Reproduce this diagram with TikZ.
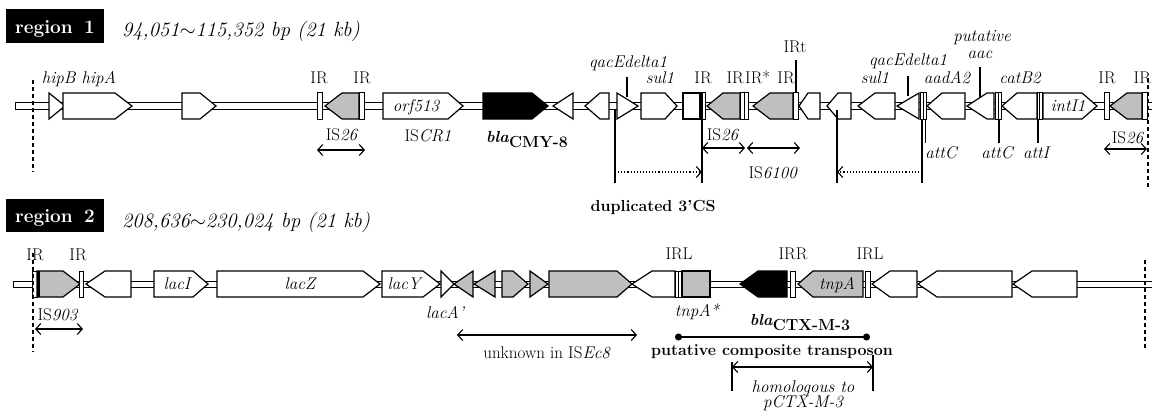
\documentclass[tikz,border=0pt]{standalone}
\usepackage{fontspec}
\usetikzlibrary{arrows.meta}
\tikzset{
  gene/.style={draw, line width=1.2pt, line join=miter},
  lbl/.style={inner sep=0pt, anchor=base, font=\fontsize{17}{19}\selectfont},
  ital/.style={lbl, font=\fontsize{17}{19}\selectfont\itshape},
  blbl/.style={lbl, font=\fontsize{16}{18}\selectfont\bfseries},
  hdr/.style={lbl, text=white, font=\fontsize{19}{21}\selectfont\bfseries},
  hdrpos/.style={inner sep=0pt, anchor=base west, font=\fontsize{20.5}{23}\selectfont\itshape},
  dimarrow/.style={line width=1.1pt, {Straight Barb[length=5pt,width=11pt]}-{Straight Barb[length=5pt,width=11pt]}},
  dotarrow/.style={line width=1.1pt, dotted, -{Straight Barb[length=5pt,width=11pt]}},
  ticker/.style={line width=1.1pt},
  cutline/.style={line width=1.1pt, dash pattern=on 4pt off 3pt},
}
% gene arrows on the current backbone (\gy = centre line)
\newcommand{\geneR}[4][white]{\filldraw[gene, fill=#1] (#2,\gy-13) -- (#3,\gy-13) -- (#4,\gy) -- (#3,\gy+13) -- (#2,\gy+13) -- cycle;}
\newcommand{\geneL}[4][white]{\filldraw[gene, fill=#1] (#2,\gy) -- (#3,\gy-13) -- (#4,\gy-13) -- (#4,\gy+13) -- (#3,\gy+13) -- cycle;}
\newcommand{\triR}[3][white]{\filldraw[gene, fill=#1] (#2,\gy-13) -- (#3,\gy) -- (#2,\gy+13) -- cycle;}
\newcommand{\triL}[3][white]{\filldraw[gene, fill=#1] (#2,\gy) -- (#3,\gy-13) -- (#3,\gy+13) -- cycle;}
\newcommand{\irbar}[2]{\filldraw[gene, fill=white, line width=1pt] (#1,\gy-13) rectangle (#2,\gy+13);}

\begin{document}
\begin{tikzpicture}[x=1pt, y=-1pt]
\useasboundingbox (0,0) rectangle (1152,412);

% headers
\fill (6,9) rectangle (104,43);
\node[hdr] (reg1) at (55,34) {region\hspace{0.6em}1};
\node[hdrpos] (span1) at (122,37) {94,051$\sim$115,352 bp (21 kb)};
\fill (6,199) rectangle (104,232);
\node[hdr] (reg2) at (55,222) {region\hspace{0.6em}2};
\node[hdrpos] (span2) at (122,227) {208,636$\sim$230,024 bp (21 kb)};

%% region 1
\def\gy{106}
\filldraw[gene, fill=white, line width=1pt] (15,103) rectangle (1160,109);
\triR{49}{65}
\geneR{63}{115}{132}
\geneR{182}{200}{216}
\irbar{317}{322}
\geneL[black!25]{325}{342}{359}
\irbar{359}{364}
\geneR{383}{448}{463}
\geneR[black]{483}{532}{548}
\triL{553}{573}
\geneL{585}{600}{609}
\triR{617}{638}
\geneR{641}{665}{677}
\filldraw[gene, fill=white] (683,93) rectangle (700,119);
\irbar{700}{705}
\geneL[black!25]{707}{723}{740}
\irbar{740}{744}
\irbar{744}{748}
\geneL[black!25]{753}{770}{793}
\irbar{793}{798}
\geneL{799}{808}{820}
\geneL{827}{838}{851}
\geneL{858}{875}{895}
\triL{897}{919}
\irbar{920}{923}
\irbar{923}{926}
\geneL{927}{942}{965}
\geneL{967}{987}{994}
\irbar{995}{998}
\irbar{998}{1001}
\geneL{1002}{1017}{1037}
\irbar{1037}{1039}
\irbar{1039}{1042}
\geneR{1043}{1082}{1097}
\irbar{1104}{1109}
\geneL[black!25]{1110}{1127}{1142}
\irbar{1142}{1147}

\draw[cutline] (33,80) coordinate (cut1t) -- (33,172) coordinate (cut1b);
\draw[cutline] (1148,78) coordinate (cut2t) -- (1148,187) coordinate (cut2b);

\node[ital] (hip) at (79,84) {hipB hipA};
\node[lbl] (ir1) at (319,84) {IR};
\node[lbl] (ir2) at (362,84) {IR};
\node[lbl] (is26a) at (342,140) {IS\textit{26}};
\node[ital] (orf) at (416,111) {orf513};
\node[lbl] (iscr) at (428,141) {IS\textit{CR1}};
\node[blbl] (cmy) at (527,147) {\raisebox{5pt}{\textit{bla}}CMY-8};
\node[ital] (qac1) at (628,68) {qacEdelta1};
\node[ital] (sul1a) at (660,84) {sul1};
\node[lbl] (ir3) at (703,84) {IR};
\node[lbl, anchor=base east] (ir4) at (744,84) {IR};
\node[lbl, anchor=base west] (ir5) at (745,84) {IR*};
\node[lbl] (ir6) at (786,84) {IR};
\node[lbl] (irt) at (795,53) {IRt};
\node[ital] (sul1b) at (875,84) {sul1};
\node[ital] (qac2) at (908,66) {qacEdelta1};
\node[ital] (aad) at (947,84) {aadA2};
\node[ital] (put) at (982,42) {putative};
\node[ital] (aac) at (980,59) {aac};
\node[ital] (cat) at (1020,84) {catB2};
\node[ital] (int) at (1068,111) {intI1};
\node[lbl] (ir7) at (1107,84) {IR};
\node[lbl, anchor=base east] (ir8) at (1151,84) {IR};
\node[ital] (attc1) at (941,158) {attC};
\node[ital] (attc2) at (997,158) {attC};
\node[ital] (atti) at (1036,158) {attI};
\node[lbl] (is26b) at (723,140) {IS\textit{26}};
\node[lbl] (is6100) at (773,178) {IS\textit{6100}};
\node[lbl] (is26c) at (1128,143) {IS\textit{26}};
\node[blbl] (dup) at (653,211) {duplicated 3'CS};

% ticks from labels to the map
\draw[ticker] (627,77) coordinate (qac1t) -- (627,97) coordinate (qac1b);
\draw[ticker] (796,60) coordinate (irtt) -- (796,93) coordinate (irtb);
\draw[ticker] (908,76) coordinate (qac2t) -- (908,96) coordinate (qac2b);
\draw[ticker] (980,67) coordinate (aact) -- (980,97) coordinate (aacb);
\draw[ticker] (925.5,119) coordinate (attc1t) -- (925.5,143) coordinate (attc1b);
\draw[ticker] (999,119) coordinate (attc2t) -- (999,143) coordinate (attc2b);
\draw[ticker] (1038,119) coordinate (attit) -- (1038,143) coordinate (attib);

% extents
\draw[dimarrow] (317,150) coordinate (is26aL) -- (365,150) coordinate (is26aR);
\draw[dimarrow] (702,148) coordinate (is26bL) -- (745,148) coordinate (is26bR);
\draw[dimarrow] (747,148) coordinate (is61L) -- (800,148) coordinate (is61R);
\draw[dimarrow] (1104,149) coordinate (is26cL) -- (1147,149) coordinate (is26cR);
\draw[ticker] (615,110) coordinate (cs1t) -- (615,183) coordinate (cs1b);
\draw[ticker] (702,93) coordinate (cs2t) -- (702,183) coordinate (cs2b);
\draw[ticker] (837,110) coordinate (cs3t) -- (837,183) coordinate (cs3b);
\draw[ticker] (922,119) coordinate (cs4t) -- (922,183) coordinate (cs4b);
\draw[dotarrow] (615,172) coordinate (dupaL) -- (702,172) coordinate (dupaR);
\draw[dotarrow] (922,172) coordinate (dupbR) -- (837,172) coordinate (dupbL);

%% region 2
\def\gy{284}
\filldraw[gene, fill=white, line width=1pt] (13,281) rectangle (1160,287);
\irbar{32}{37}
\geneR[black!25]{37}{63}{80}
\draw[line width=2.2pt] (38.5,271) -- (38.5,297);
\irbar{79}{83}
\geneL{86}{105}{131}
\geneR{154}{193}{208}
\geneR{217}{363}{380}
\geneR{382}{423}{440}
\triR{441}{454}
\triL[black!25]{454}{473}
\triL[black!25]{474}{495}
\geneR[black!25]{502}{513}{528}
\triR[black!25]{530}{548}
\geneR[black!25]{549}{617}{632}
\geneL{632}{652}{675}
\irbar{675}{678}
\irbar{678}{681}
\filldraw[gene, fill=black!25] (682,271) rectangle (710,297);
\geneL[black]{740}{758}{787}
\irbar{790}{795}
\geneL[black!25]{798}{813}{863}
\irbar{865}{870}
\geneL{872}{890}{917}
\geneL{918}{937}{1012}
\geneL{1013}{1032}{1077}

\draw[cutline] (33,253) coordinate (cut3t) -- (33,352) coordinate (cut3b);
\draw[cutline] (1145,260) coordinate (cut4t) -- (1145,348) coordinate (cut4b);

\node[lbl] (ir9) at (35,260) {IR};
\node[lbl] (ir10) at (78,260) {IR};
\node[lbl] (is903) at (58,320) {IS\textit{903}};
\node[ital] (laci) at (177,289) {lacI};
\node[ital] (lacz) at (300,289) {lacZ};
\node[ital] (lacy) at (404,289) {lacY};
\node[ital] (laca) at (445,318) {lacA'};
\node[lbl] (irl1) at (679,259) {IRL};
\node[ital] (tnpas) at (697,316) {tnpA*};
\node[blbl] (ctx) at (800,330) {\raisebox{5pt}{\textit{bla}}CTX-M-3};
\node[lbl] (irr) at (793,259) {IRR};
\node[ital] (tnpa) at (837,289) {tnpA};
\node[lbl] (irl2) at (870,259) {IRL};
\node[blbl] (comp) at (772,355) {putative composite transposon};
\node[lbl] (unk) at (547,358) {unknown in IS\textit{Ec8}};
\node[ital] (hom1) at (803,392) {homologous to};
\node[ital] (hom2) at (803,407) {pCTX-M-3};

\draw[dimarrow] (35,329) coordinate (is903L) -- (83,329) coordinate (is903R);
\draw[dimarrow] (457,335) coordinate (unkL) -- (637,335) coordinate (unkR);
\draw[line width=1.1pt, {Circle[length=7pt]}-{Circle[length=7pt]}] (675,337) coordinate (compL) -- (870,337) coordinate (compR);
\draw[ticker] (732,362) coordinate (homLt) -- (732,391) coordinate (homLb);
\draw[ticker] (873,355) coordinate (homRt) -- (873,391) coordinate (homRb);
\draw[dimarrow] (732,367) coordinate (homL) -- (873,367) coordinate (homR);

\end{tikzpicture}
\end{document}
